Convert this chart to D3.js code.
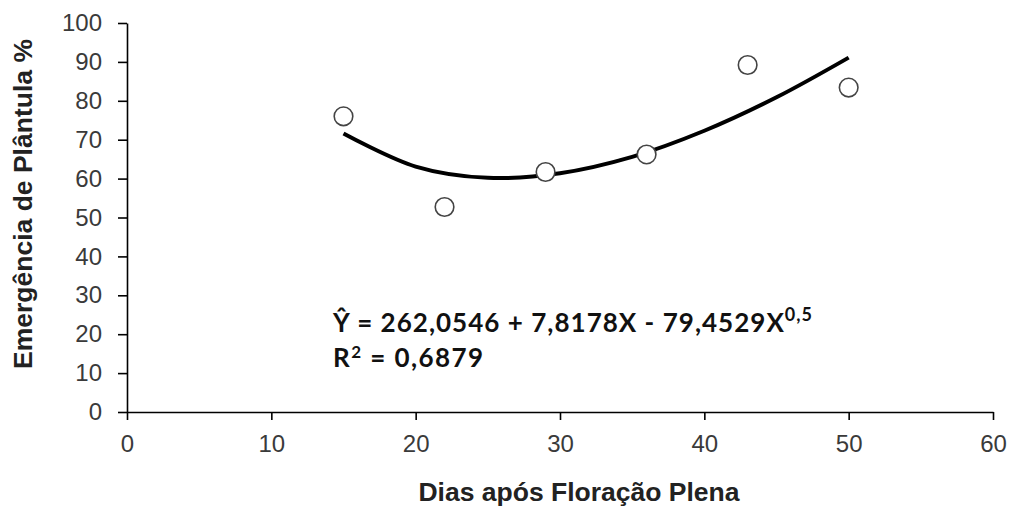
<!DOCTYPE html>
<html>
<head>
<meta charset="utf-8">
<script src="https://cdn.jsdelivr.net/npm/d3@7"></script>
<style>
  body { margin: 0; background: #fff; }
  svg { display: block; }
  .tick text { font-family: Arial, "Liberation Sans", sans-serif; font-size: 24px; fill: #3a3a3a; }
  .axis-title { font-family: Arial, "Liberation Sans", sans-serif; font-weight: bold; font-size: 26.5px; fill: #222; }
  .equation { font-family: Lato, "Open Sans", sans-serif; font-weight: bold; font-size: 26px; fill: #111; }
</style>
</head>
<body>
<svg id="chart" width="1011" height="512"></svg>
<script>
// observed points
const days = [15, 22, 29, 36, 43, 50];
const emergence = [76, 52.7, 61.7, 66.2, 89.2, 83.4];

// fitted curve
const curveX = [15, 20, 25, 30, 35, 40, 45, 50];
const curveY = [71.6, 63.1, 60.2, 61.4, 65.6, 72.3, 80.9, 91.1];

const xTicks = [0, 10, 20, 30, 40, 50, 60];
const yTicks = [0, 10, 20, 30, 40, 50, 60, 70, 80, 90, 100];

const svg = d3.select("#chart");

const x = d3.scaleLinear().domain([0, 60]).range([127, 993]);
const y = d3.scaleLinear().domain([0, 100]).range([412, 23]);

// x axis
const xAxis = svg.append("g")
    .attr("transform", `translate(0,${y(0)})`)
    .call(d3.axisBottom(x).tickValues(xTicks).tickSize(8).tickSizeOuter(0).tickPadding(15));

// y axis
const yAxis = svg.append("g")
    .attr("transform", `translate(${x(0)},0)`)
    .call(d3.axisLeft(y).tickValues(yTicks).tickSize(9).tickSizeOuter(0).tickPadding(16));

[xAxis, yAxis].forEach(a => {
    a.select(".domain").attr("stroke", "#000").attr("stroke-width", 1.6);
    a.selectAll(".tick line").attr("stroke", "#000").attr("stroke-width", 1.6);
});

// fitted line
const line = d3.line()
    .x(d => x(d[0]))
    .y(d => y(d[1]))
    .curve(d3.curveCatmullRom);

svg.append("path")
    .datum(d3.zip(curveX, curveY))
    .attr("d", line)
    .attr("fill", "none")
    .attr("stroke", "#000")
    .attr("stroke-width", 4);

// points
svg.selectAll("circle.pt")
    .data(d3.zip(days, emergence))
    .enter()
    .append("circle")
    .attr("class", "pt")
    .attr("cx", d => x(d[0]))
    .attr("cy", d => y(d[1]))
    .attr("r", 9.3)
    .attr("fill", "#fff")
    .attr("stroke", "#444")
    .attr("stroke-width", 1.6);

// equation text
const eq = svg.append("text").attr("class", "equation")
    .attr("x", 333).attr("y", 332)
    .attr("textLength", 479);
eq.append("tspan").text("Ŷ = 262,0546 + 7,8178X - 79,4529X");
eq.append("tspan").attr("dy", -11).attr("font-size", 18).text("0,5");

const r2 = svg.append("text").attr("class", "equation")
    .attr("x", 333).attr("y", 367)
    .attr("textLength", 150);
r2.append("tspan").text("R");
r2.append("tspan").attr("dy", -9).attr("font-size", 17).text("2");
r2.append("tspan").attr("dy", 9).text(" = 0,6879");

// axis titles
svg.append("text")
    .attr("class", "axis-title")
    .attr("text-anchor", "middle")
    .attr("x", 579)
    .attr("y", 501)
    .text("Dias após Floração Plena");

svg.append("text")
    .attr("class", "axis-title")
    .attr("text-anchor", "middle")
    .attr("transform", "translate(32,204) rotate(-90)")
    .text("Emergência de Plântula %");
</script>
</body>
</html>
